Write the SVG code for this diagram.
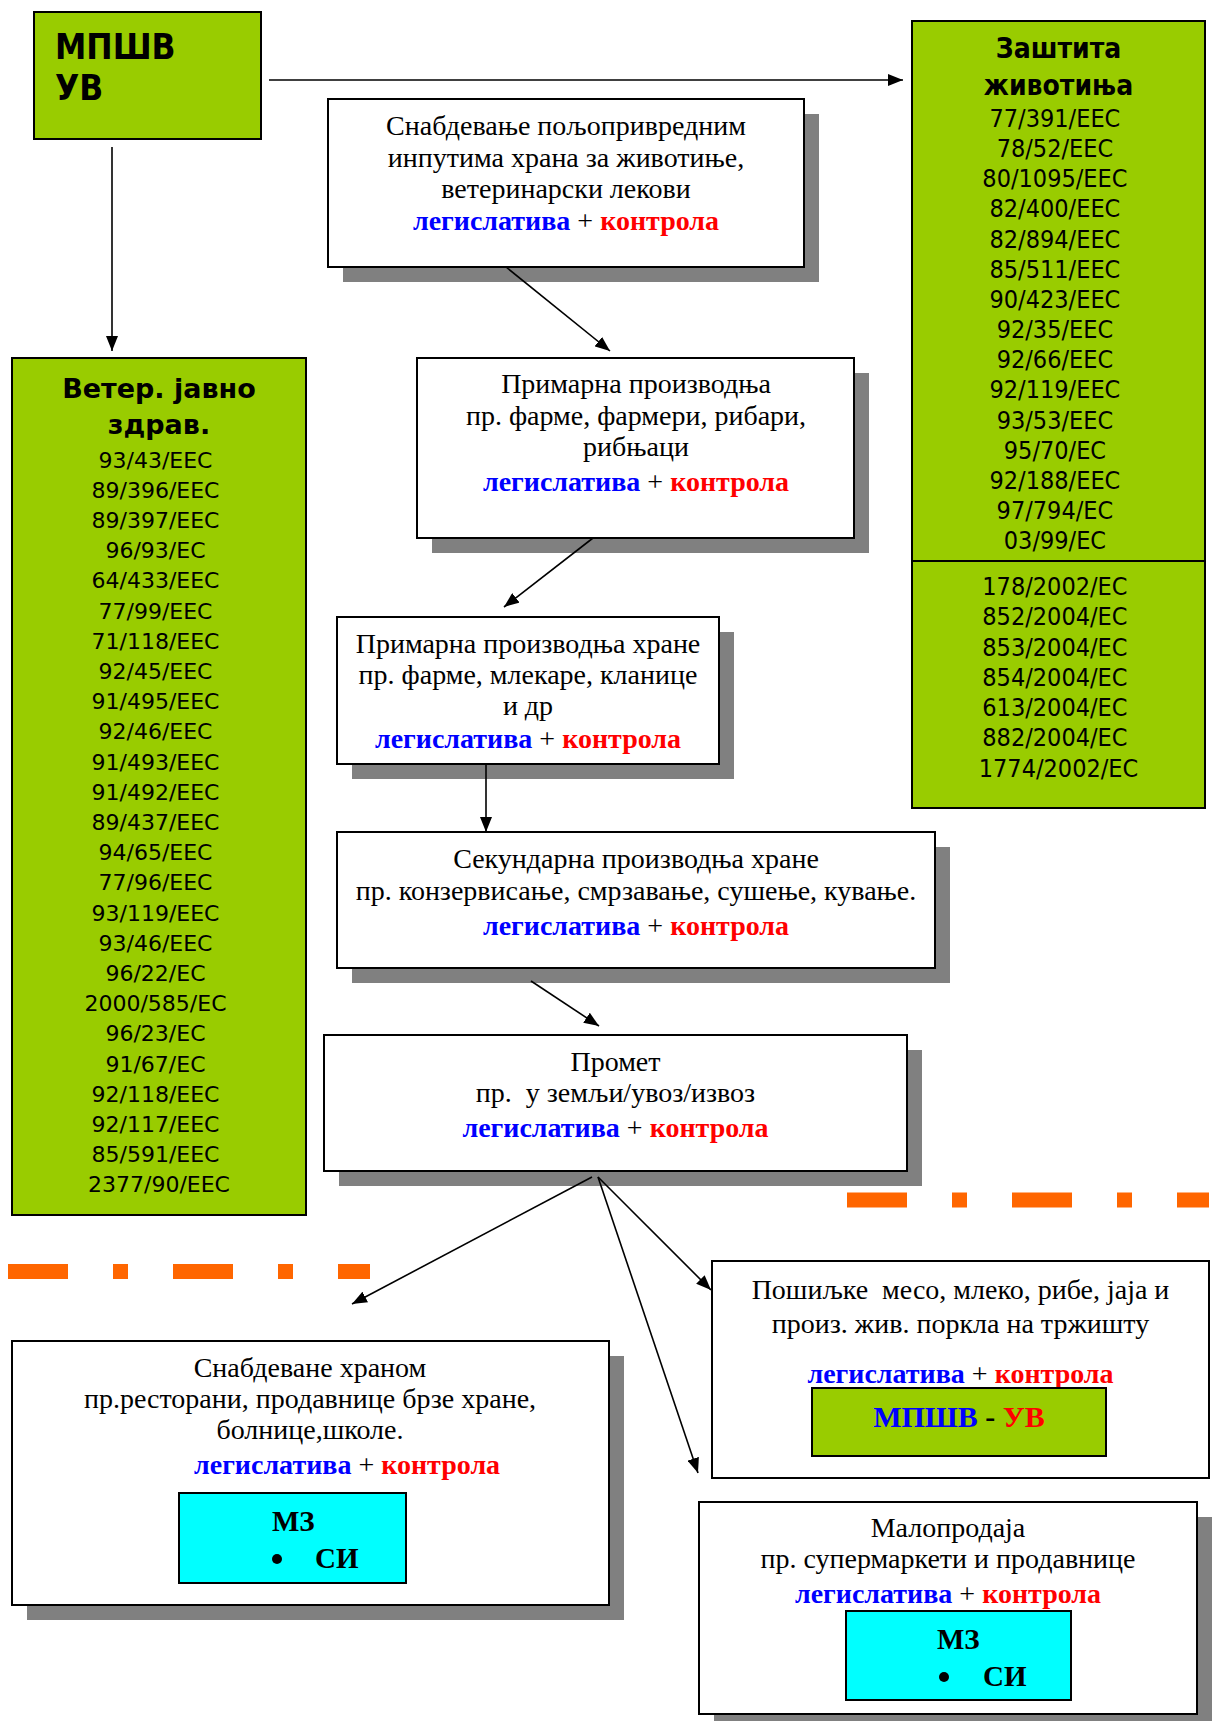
<svg xmlns="http://www.w3.org/2000/svg" width="1220" height="1721" viewBox="0 0 1220 1721">
<defs>
<marker id="arr" markerUnits="userSpaceOnUse" markerWidth="15" markerHeight="12" refX="15" refY="6" orient="auto">
<path d="M0,0 L15,6 L0,12 z" fill="#000"/>
</marker>
<style>
.box{fill:#fff;stroke:#000;stroke-width:2}
.sh{fill:#808080}
.green{fill:#99CC00;stroke:#000;stroke-width:2}
.cyan{fill:#00FFFF;stroke:#000;stroke-width:2}
.t{font-family:"Liberation Serif","Times New Roman",serif;font-size:28px;text-anchor:middle;fill:#000}
.b{font-weight:bold}
.n{font-weight:normal;fill:#000}
.blue{fill:#0000FF}
.red{fill:#FF0000}
.v{font-family:"DejaVu Sans",Verdana,sans-serif;font-size:22px;text-anchor:middle;fill:#000}
.vt{font-family:"DejaVu Sans",Verdana,sans-serif;font-size:27px;font-weight:bold;text-anchor:middle;fill:#000}
.c{font-family:"DejaVu Sans Condensed","DejaVu Sans",sans-serif;font-stretch:condensed;font-size:25px;text-anchor:middle;fill:#000}
.ct{font-family:"DejaVu Sans Condensed","DejaVu Sans",sans-serif;font-stretch:condensed;font-size:28px;font-weight:bold;text-anchor:middle;fill:#000}
.pre{white-space:pre}
#connectors line{stroke:#000;stroke-width:1.6;marker-end:url(#arr)}
.dash{stroke:#FF6600;stroke-width:15;stroke-dasharray:60 45 15 45;fill:none}
</style>
</defs>
<rect width="1220" height="1721" fill="#fff"/>

<g id="mpshv">
<rect class="green" x="34" y="12" width="227" height="127"/>
<text x="55" y="59" style="font-family:'DejaVu Sans Condensed','DejaVu Sans',sans-serif;font-stretch:condensed;font-size:35px;font-weight:bold">МПШВ</text>
<text x="55" y="100" style="font-family:'DejaVu Sans Condensed','DejaVu Sans',sans-serif;font-stretch:condensed;font-size:35px;font-weight:bold">УВ</text>
</g>

<g id="zastita">
<rect class="green" x="912" y="21" width="293" height="787"/>
<line x1="912" y1="561" x2="1205" y2="561" stroke="#000" stroke-width="2"/>
<text class="ct" x="1058.5" y="58">Заштита</text>
<text class="ct" x="1058.5" y="95">животиња</text>
<text class="c">
<tspan x="1058.5" y="127">77/391/EEC</tspan>
<tspan x="1058.5" y="157">78/52/EEC</tspan>
<tspan x="1058.5" y="187">80/1095/EEC</tspan>
<tspan x="1058.5" y="217">82/400/EEC</tspan>
<tspan x="1058.5" y="248">82/894/EEC</tspan>
<tspan x="1058.5" y="278">85/511/EEC</tspan>
<tspan x="1058.5" y="308">90/423/EEC</tspan>
<tspan x="1058.5" y="338">92/35/EEC</tspan>
<tspan x="1058.5" y="368">92/66/EEC</tspan>
<tspan x="1058.5" y="398">92/119/EEC</tspan>
<tspan x="1058.5" y="429">93/53/EEC</tspan>
<tspan x="1058.5" y="459">95/70/EC</tspan>
<tspan x="1058.5" y="489">92/188/EEC</tspan>
<tspan x="1058.5" y="519">97/794/EC</tspan>
<tspan x="1058.5" y="549">03/99/EC</tspan>
<tspan x="1058.5" y="595">178/2002/EC</tspan>
<tspan x="1058.5" y="625">852/2004/EC</tspan>
<tspan x="1058.5" y="656">853/2004/EC</tspan>
<tspan x="1058.5" y="686">854/2004/EC</tspan>
<tspan x="1058.5" y="716">613/2004/EC</tspan>
<tspan x="1058.5" y="746">882/2004/EC</tspan>
<tspan x="1058.5" y="777">1774/2002/EC</tspan>
</text>
</g>

<g id="veter">
<rect class="green" x="12" y="358" width="294" height="857"/>
<text class="vt" x="159" y="398">Ветер. јавно</text>
<text class="vt" x="159" y="434">здрав.</text>
<text class="v">
<tspan x="159" y="468">93/43/EEC</tspan>
<tspan x="159" y="498">89/396/EEC</tspan>
<tspan x="159" y="528">89/397/EEC</tspan>
<tspan x="159" y="558">96/93/EC</tspan>
<tspan x="159" y="588">64/433/EEC</tspan>
<tspan x="159" y="619">77/99/EEC</tspan>
<tspan x="159" y="649">71/118/EEC</tspan>
<tspan x="159" y="679">92/45/EEC</tspan>
<tspan x="159" y="709">91/495/EEC</tspan>
<tspan x="159" y="739">92/46/EEC</tspan>
<tspan x="159" y="770">91/493/EEC</tspan>
<tspan x="159" y="800">91/492/EEC</tspan>
<tspan x="159" y="830">89/437/EEC</tspan>
<tspan x="159" y="860">94/65/EEC</tspan>
<tspan x="159" y="890">77/96/EEC</tspan>
<tspan x="159" y="921">93/119/EEC</tspan>
<tspan x="159" y="951">93/46/EEC</tspan>
<tspan x="159" y="981">96/22/EC</tspan>
<tspan x="159" y="1011">2000/585/EC</tspan>
<tspan x="159" y="1041">96/23/EC</tspan>
<tspan x="159" y="1072">91/67/EC</tspan>
<tspan x="159" y="1102">92/118/EEC</tspan>
<tspan x="159" y="1132">92/117/EEC</tspan>
<tspan x="159" y="1162">85/591/EEC</tspan>
<tspan x="159" y="1192">2377/90/EEC</tspan>
</text>
</g>

<g id="snabdevanje">
<rect class="sh" x="343" y="114" width="476" height="168"/>
<rect class="box" x="328" y="99" width="476" height="168"/>
<text class="t" x="566" y="135">Снабдевање пољопривредним</text>
<text class="t" x="566" y="167">инпутима храна за животиње,</text>
<text class="t" x="566" y="198">ветеринарски лекови</text>
<text class="t b" x="566" y="230"><tspan class="blue">легислатива</tspan><tspan class="n"> + </tspan><tspan class="red">контрола</tspan></text>
</g>

<g id="primarna">
<rect class="sh" x="432" y="373" width="437" height="180"/>
<rect class="box" x="417" y="358" width="437" height="180"/>
<text class="t" x="636" y="393">Примарна производња</text>
<text class="t" x="636" y="425">пр. фарме, фармери, рибари,</text>
<text class="t" x="636" y="456">рибњаци</text>
<text class="t b" x="636" y="491"><tspan class="blue">легислатива</tspan><tspan class="n"> + </tspan><tspan class="red">контрола</tspan></text>
</g>

<g id="primarna-hrane">
<rect class="sh" x="352" y="632" width="382" height="147"/>
<rect class="box" x="337" y="617" width="382" height="147"/>
<text class="t" x="528" y="653">Примарна производња хране</text>
<text class="t" x="528" y="684">пр. фарме, млекаре, кланице</text>
<text class="t" x="528" y="715">и др</text>
<text class="t b" x="528" y="748"><tspan class="blue">легислатива</tspan><tspan class="n"> + </tspan><tspan class="red">контрола</tspan></text>
</g>

<g id="sekundarna">
<rect class="sh" x="352" y="847" width="598" height="136"/>
<rect class="box" x="337" y="832" width="598" height="136"/>
<text class="t" x="636" y="868">Секундарна производња хране</text>
<text class="t" x="636" y="900">пр. конзервисање, смрзавање, сушење, кување.</text>
<text class="t b" x="636" y="935"><tspan class="blue">легислатива</tspan><tspan class="n"> + </tspan><tspan class="red">контрола</tspan></text>
</g>

<g id="promet">
<rect class="sh" x="339" y="1050" width="583" height="136"/>
<rect class="box" x="324" y="1035" width="583" height="136"/>
<text class="t" x="615.5" y="1071">Промет</text>
<text class="t pre" x="615.5" y="1102">пр.  у земљи/увоз/извоз</text>
<text class="t b" x="615.5" y="1137"><tspan class="blue">легислатива</tspan><tspan class="n"> + </tspan><tspan class="red">контрола</tspan></text>
</g>

<g id="posiljke">
<rect class="box" x="712" y="1261" width="497" height="217"/>
<text class="t pre" x="960.5" y="1299">Пошиљке  месо, млеко, рибе, јаја и</text>
<text class="t" x="960.5" y="1333">произ. жив. поркла на тржишту</text>
<text class="t b" x="960.5" y="1383"><tspan class="blue">легислатива</tspan><tspan class="n"> + </tspan><tspan class="red">контрола</tspan></text>
<rect class="green" x="812" y="1388" width="294" height="68"/>
<text class="t b" x="959" y="1427" style="font-size:30px"><tspan class="blue">МПШВ</tspan><tspan> - </tspan><tspan class="red">УВ</tspan></text>
</g>

<g id="snabdevane-hranom">
<rect class="sh" x="27" y="1356" width="597" height="264"/>
<rect class="box" x="12" y="1341" width="597" height="264"/>
<text class="t" x="310" y="1377">Снабдеване храном</text>
<text class="t" x="310" y="1408">пр.ресторани, продавнице брзе хране,</text>
<text class="t" x="310" y="1439">болнице,школе.</text>
<text class="t b" x="194" y="1474" style="text-anchor:start"><tspan class="blue">легислатива</tspan><tspan class="n"> + </tspan><tspan class="red">контрола</tspan></text>
<rect class="cyan" x="179" y="1493" width="227" height="90"/>
<text class="t b" x="272" y="1531" style="text-anchor:start;font-size:29px">МЗ</text>
<circle cx="277" cy="1559" r="5" fill="#000"/>
<text class="t b" x="315" y="1568" style="text-anchor:start;font-size:29px">СИ</text>
</g>

<g id="maloprodaja">
<rect class="sh" x="714" y="1517" width="498" height="212"/>
<rect class="box" x="699" y="1502" width="498" height="212"/>
<text class="t" x="948" y="1537">Малопродаја</text>
<text class="t" x="948" y="1568">пр. супермаркети и продавнице</text>
<text class="t b" x="948" y="1603"><tspan class="blue">легислатива</tspan><tspan class="n"> + </tspan><tspan class="red">контрола</tspan></text>
<rect class="cyan" x="846" y="1611" width="225" height="89"/>
<text class="t b" x="937" y="1649" style="text-anchor:start;font-size:29px">МЗ</text>
<circle cx="944" cy="1677" r="5" fill="#000"/>
<text class="t b" x="983" y="1686" style="text-anchor:start;font-size:29px">СИ</text>
</g>

<g id="separators">
<line class="dash" x1="8" y1="1271.5" x2="370" y2="1271.5"/>
<line class="dash" x1="847" y1="1200" x2="1209" y2="1200"/>
</g>

<g id="connectors">
<line x1="269" y1="80" x2="903" y2="80"/>
<line x1="112" y1="147" x2="112" y2="351"/>
<line x1="506" y1="267" x2="610" y2="351"/>
<line x1="593" y1="538" x2="504" y2="607"/>
<line x1="486" y1="764" x2="486" y2="832"/>
<line x1="531" y1="981" x2="599" y2="1026"/>
<line x1="592" y1="1177" x2="352" y2="1304"/>
<line x1="598" y1="1177" x2="711" y2="1290"/>
<line x1="598" y1="1177" x2="698" y2="1473"/>
</g>
</svg>
